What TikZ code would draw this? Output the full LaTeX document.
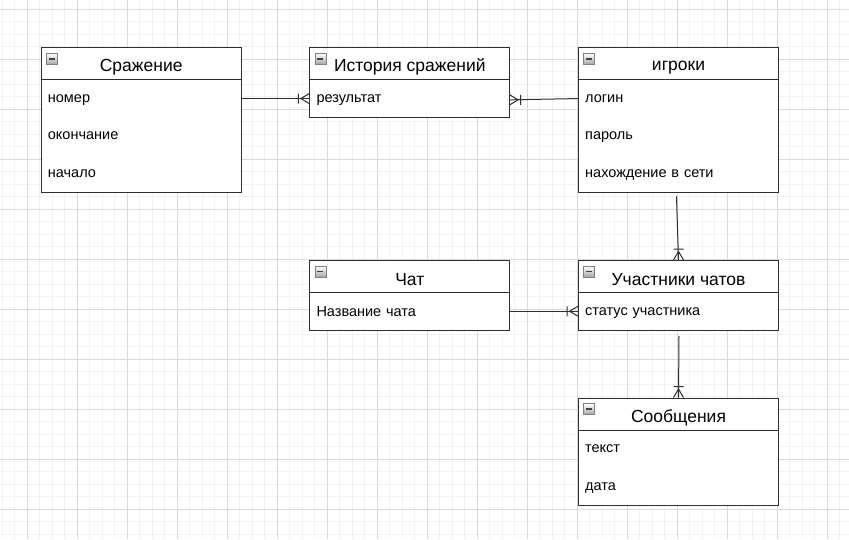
\documentclass[tikz,border=0pt]{standalone}
\usepackage{fontspec}
\setmainfont{Liberation Sans}
\usetikzlibrary{calc}

\definecolor{gridminor}{HTML}{F3F3F3}
\definecolor{gridmajor}{HTML}{DADADA}
\definecolor{edge}{HTML}{2E2E2E}

% Entity box: #1 name, #2 left, #3 top, #4 number of rows, #5 title
\newcommand{\erbox}[5]{%
  \node[entity, minimum height={32.5pt+#4*37.5pt}, anchor=north west] (#1) at (#2,#3) {};
  \draw[edge, line width=1pt] ($(#1.north west)+(0,32.5)$) -- ($(#1.north east)+(0,32.5)$);
  \node[title] (#1-t) at ($(#1.north)+(0,20)$) {#5};
  % collapse icon in the header corner
  \coordinate (#1-i) at ($(#1.north west)+(5.5,6)$);
  \shade[top color=white, bottom color=black!35, draw=black!50, line width=0.6pt]
    (#1-i) rectangle ++(11,11);
  \draw[black!75, line width=1.6pt] ($(#1-i)+(2.5,5.5)$) -- ++(6,0);
}
% Attribute row: #1 entity name, #2 row index, #3 text
\newcommand{\errow}[3]{%
  \node[field] (#1-#2) at ($(#1.north west)+(0,{32.5+18.75+(#2-1)*37.5})$) {#3};
}
% One-or-many end mark: #1 end point on the box, #2 direction pointing into the box
\newcommand{\crow}[2]{%
  \begin{scope}[shift={(#1)}, rotate=#2]
    \draw[link] (-8.5,0) -- (0,5) (-8.5,0) -- (0,-5) (-11,-5) -- (-11,5);
  \end{scope}
}

\begin{document}
\begin{tikzpicture}[x=1pt, y=-1pt,
  entity/.style={draw=edge, line width=1pt, fill=white, minimum width=200pt, inner sep=0pt},
  title/.style={font=\fontsize{17.5}{20}\selectfont, inner sep=0pt, anchor=center},
  field/.style={font=\fontsize{14.5}{17}\selectfont, anchor=west, inner xsep=7pt, inner ysep=0pt,
    text width=186pt, align=left, minimum height=37.5pt, text depth=-4.5pt},
  link/.style={draw=edge, line width=1pt},
  minor/.style={draw=gridminor, line width=1pt},
  major/.style={draw=gridmajor, line width=1pt}
]
\useasboundingbox (0,0) rectangle (849,539);
\fill[white] (0,0) rectangle (849,539);

% background grid
\foreach \i in {0,...,68} \draw[minor] ({2+12.5*\i},0) -- ({2+12.5*\i},539);
\foreach \j in {0,...,44} \draw[minor] (0,{-3.2+12.5*\j}) -- (849,{-3.2+12.5*\j});
\foreach \i in {0,...,16} \draw[major] ({27+50*\i},0) -- ({27+50*\i},539);
\foreach \j in {0,...,10} \draw[major] (0,{9.3+50*\j}) -- (849,{9.3+50*\j});

% entities
\erbox{sr}{40.7}{47.3}{3}{Сражение}
\errow{sr}{1}{номер}
\errow{sr}{2}{окончание}
\errow{sr}{3}{начало}

\erbox{hist}{309.3}{47.3}{1}{История сражений}
\errow{hist}{1}{результат}

\erbox{igr}{578}{47.3}{3}{игроки}
\errow{igr}{1}{логин}
\errow{igr}{2}{пароль}
\errow{igr}{3}{нахождение в сети}

\erbox{chat}{309.3}{260}{1}{Чат}
\errow{chat}{1}{Название чата}

\erbox{uch}{578}{260}{1}{Участники чатов}
\errow{uch}{1}{статус участника}

\erbox{msg}{578}{397.5}{2}{Сообщения}
\errow{msg}{1}{текст}
\errow{msg}{2}{дата}

% relationships
\draw[link] (sr-1.east) -- (hist-1.west);
\crow{hist-1.west}{0}

\coordinate (hist-in) at ($(hist-1.east)+(0,1.3)$);
\draw[link] (igr-1.west) -- (hist-in);
\crow{hist-in}{180}

\coordinate (igr-out) at ($(igr.south)+(-2,3)$);
\draw[link] (igr-out) -- (uch.north);
\crow{uch.north}{-90}

\draw[link] (chat-1.east) -- (uch-1.west);
\crow{uch-1.west}{0}

\coordinate (uch-out) at ($(uch.south)+(0.5,5)$);
\draw[link] (uch-out) -- (msg.north);
\crow{msg.north}{-90}
\end{tikzpicture}
\end{document}
